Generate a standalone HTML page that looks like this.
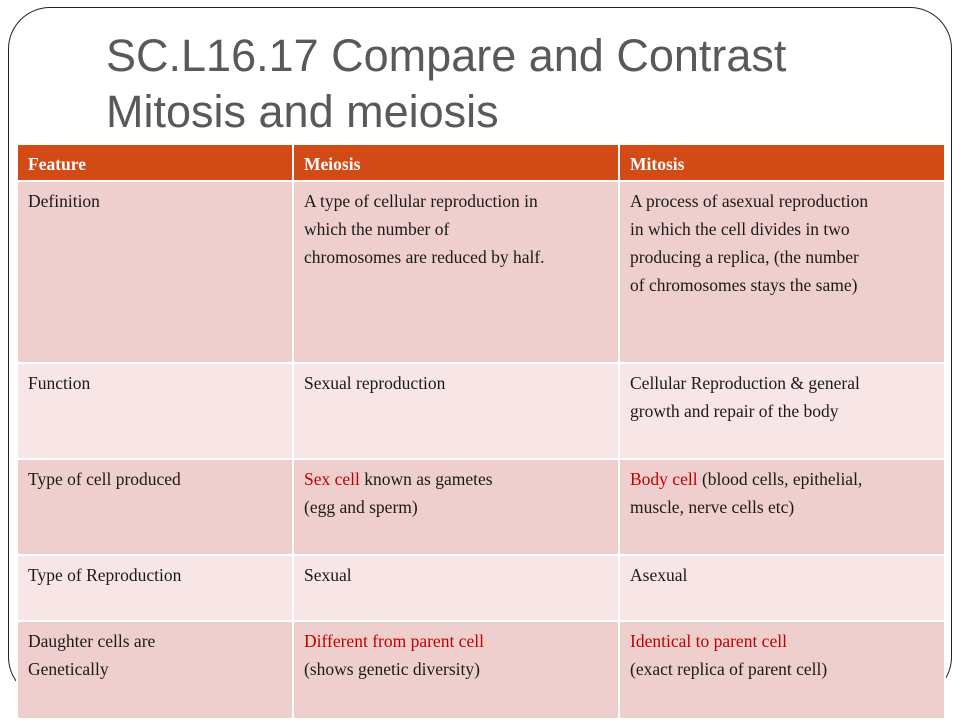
<!DOCTYPE html>
<html><head><meta charset="utf-8"><style>
body{margin:0;width:960px;height:720px;background:#fff;position:relative;overflow:hidden;font-family:"Liberation Serif",serif}
.frame{position:absolute;left:8px;top:7px;width:944px;height:692px;border:1.3px solid #222;border-radius:42px;box-sizing:border-box}
.title{position:absolute;left:106px;top:28px;font-family:"Liberation Sans",sans-serif;font-size:45px;line-height:56px;color:#595959}
table{position:absolute;left:16px;top:143px;width:928px;border-collapse:collapse;table-layout:fixed}
td,th{padding:5px 4px 0 10px;vertical-align:top;font-size:17.5px;line-height:28px;color:#1a1a1a;border:2px solid #fff;text-align:left;white-space:nowrap;overflow:hidden}
th{background:#d24a16;color:#fff;font-weight:bold;height:30px;padding-top:5px}
tr.a td{background:#efcfcd}
tr.b td{background:#f7e6e5}
.r{color:#c00000}
</style></head><body>
<div class="frame"></div>
<div class="title">SC.L16.17 Compare and Contrast<br>Mitosis and meiosis</div>
<table>
<colgroup><col style="width:276px"><col style="width:326px"><col style="width:326px"></colgroup>
<tr><th>Feature</th><th>Meiosis</th><th>Mitosis</th></tr>
<tr class="a" style="height:182px"><td>Definition</td><td>A type of cellular reproduction in<br>which the number of<br>chromosomes are reduced by half.</td><td>A process of asexual reproduction<br>in which the cell divides in two<br>producing a replica, (the number<br>of chromosomes stays the same)</td></tr>
<tr class="b" style="height:96px"><td>Function</td><td>Sexual reproduction</td><td>Cellular Reproduction &amp; general<br>growth and repair of the body</td></tr>
<tr class="a" style="height:96px"><td>Type of cell produced</td><td><span class="r">Sex cell</span> known as gametes<br>(egg and sperm)</td><td><span class="r">Body cell</span> (blood cells, epithelial,<br>muscle, nerve cells etc)</td></tr>
<tr class="b" style="height:66px"><td>Type of Reproduction</td><td>Sexual</td><td>Asexual</td></tr>
<tr class="a" style="height:98px"><td>Daughter cells are<br>Genetically</td><td><span class="r">Different from parent cell</span><br>(shows genetic diversity)</td><td><span class="r">Identical to parent cell</span><br>(exact replica of parent cell)</td></tr>
</table>
</body></html>
